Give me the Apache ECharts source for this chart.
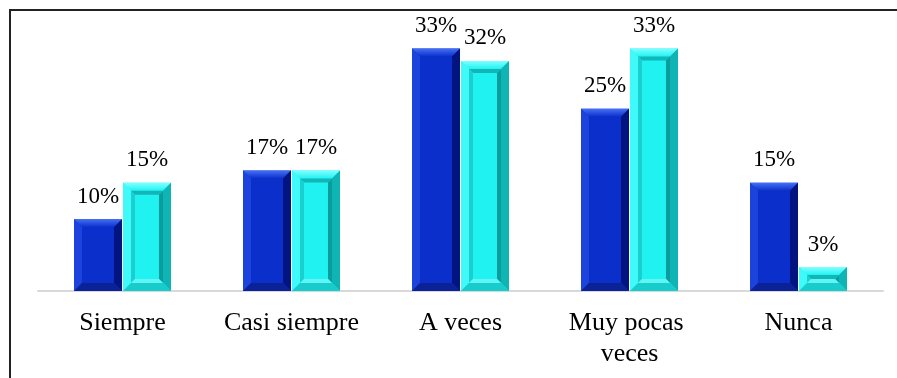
<!DOCTYPE html>
<html>
<head>
<meta charset="utf-8">
<script src="https://cdn.jsdelivr.net/npm/echarts@6/dist/echarts.min.js"></script>
<style>
  html, body { margin: 0; padding: 0; background: #fff; }
  #chart { width: 897px; height: 378px; }
</style>
</head>
<body>
<div id="chart"></div>
<script>
const categories = ['Siempre', 'Casi siempre', 'A veces', 'Muy pocas veces', 'Nunca'];
const serieA = [9.9, 16.6, 33.4, 25.1, 14.9];   // azul
const serieB = [14.9, 16.6, 31.7, 33.4, 3.3];   // celeste

const chart = echarts.init(document.getElementById('chart'));

// paletas del bisel
const azul = { face: '#0b2fca', top: '#4570f5', left: '#1c44dc', right: '#031480', bottom: '#0a2296' };
const celeste = { face: '#20f2f2', top: '#80ffff', left: '#40fafa', right: '#0fb4b4', bottom: '#18cccc',
  inTop: '#12b6b6', inLeft: '#19cfcf', inRight: '#0b9c9c', inBottom: '#5ff5f5' };

const serif = 'Liberation Serif';
const poly = (pts, fill) => ({ type: 'polygon', shape: { points: pts }, style: { fill: fill } });

// dibuja una barra con bisel, side -1 = izquierda, 1 = derecha
const bevelBar = (side, pal, inner) => (params, api) => {
  const idx = api.value(0), val = api.value(1);
  const base = api.coord([idx, 0]);
  const top = api.coord([idx, val]);
  const band = api.size([1, 0])[0];
  const w = band * 0.284;
  const x0 = side < 0 ? base[0] - 0.5 - w : base[0] + 0.5;
  const x1 = x0 + w, y0 = top[1], y1 = base[1];
  const b = Math.min(8, (y1 - y0) / 2);
  const kids = [
    { type: 'rect', shape: { x: x0, y: y0, width: w, height: y1 - y0 }, style: { fill: pal.face } },
    poly([[x0, y0], [x1, y0], [x1 - b, y0 + b], [x0 + b, y0 + b]], new echarts.graphic.LinearGradient(0, 0, 0, 1, [{ offset: 0, color: pal.top }, { offset: 1, color: pal.face }])),
    poly([[x0, y0], [x0 + b, y0 + b], [x0 + b, y1 - b], [x0, y1]], pal.left),
    poly([[x1, y0], [x1, y1], [x1 - b, y1 - b], [x1 - b, y0 + b]], pal.right),
    poly([[x0, y1], [x0 + b, y1 - b], [x1 - b, y1 - b], [x1, y1]], pal.bottom)
  ];
  if (inner) {
    const ix0 = x0 + b, ix1 = x1 - b, iy0 = y0 + b, iy1 = y1 - b;
    const c = Math.min(4, (iy1 - iy0) / 2);
    if (c > 0) {
      kids.push(
        poly([[ix0, iy0], [ix1, iy0], [ix1 - c, iy0 + c], [ix0 + c, iy0 + c]], pal.inTop),
        poly([[ix0, iy0], [ix0 + c, iy0 + c], [ix0 + c, iy1 - c], [ix0, iy1]], pal.inLeft),
        poly([[ix1, iy0], [ix1, iy1], [ix1 - c, iy1 - c], [ix1 - c, iy0 + c]], pal.inRight),
        poly([[ix0, iy1], [ix0 + c, iy1 - c], [ix1 - c, iy1 - c], [ix1, iy1]], pal.inBottom)
      );
    }
  }
  kids.push({
    type: 'text',
    style: {
      text: Math.round(val) + '%', x: (x0 + x1) / 2, y: y0 - 11,
      align: 'center', verticalAlign: 'bottom',
      fontFamily: serif, fontSize: 23, fill: '#000'
    }
  });
  return { type: 'group', children: kids };
};

chart.setOption({
  animation: false,
  grid: { left: 38, right: 14, top: 37, bottom: 87 },
  graphic: [{
    type: 'rect', shape: { x: 10, y: 10, width: 1000, height: 500 },
    style: { fill: 'none', stroke: '#222', lineWidth: 2 }, silent: true
  }],
  xAxis: {
    type: 'category',
    data: categories,
    axisLine: { lineStyle: { color: '#d9d9d9', width: 2 } },
    axisTick: { show: false },
    axisLabel: {
      color: '#000', fontFamily: serif, fontSize: 26,
      margin: 17, lineHeight: 31, width: 140, overflow: 'break', interval: 0
    }
  },
  yAxis: { type: 'value', min: 0, max: 35, show: false, splitLine: { show: false } },
  series: [
    { type: 'custom', renderItem: bevelBar(-1, azul, false), data: serieA.map((v, i) => [i, v]) },
    { type: 'custom', renderItem: bevelBar(1, celeste, true), data: serieB.map((v, i) => [i, v]) }
  ]
});
</script>
</body>
</html>
